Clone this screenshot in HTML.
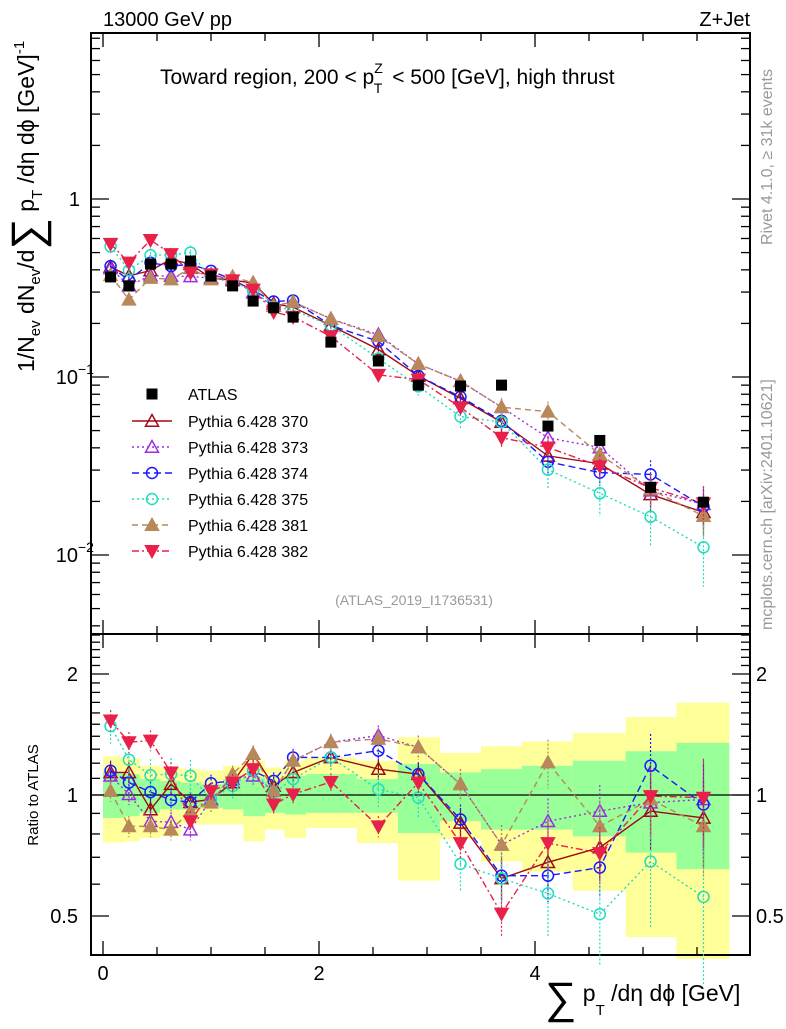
<!DOCTYPE html>
<html><head><meta charset="utf-8"><style>
body{margin:0;background:#fff;}
svg text{font-family:"Liberation Sans",sans-serif;}
</style></head><body>
<svg id="c" width="786" height="1024" xmlns="http://www.w3.org/2000/svg"></svg>
<script>
const xs=[0.07,0.24,0.44,0.63,0.81,1.0,1.2,1.39,1.58,1.76,2.11,2.55,2.92,3.31,3.69,4.12,4.6,5.07,5.56];
const binEdges=[0,0.21,0.34,0.53,0.72,0.91,1.11,1.30,1.50,1.68,1.88,2.35,2.73,3.12,3.5,3.88,4.35,4.84,5.31,5.8];
const atlas=[0.365,0.325,0.431,0.431,0.448,0.369,0.325,0.267,0.245,0.217,0.157,0.123,0.090,0.089,0.090,0.053,0.044,0.024,0.0198];
const yellowHi=[1.248,1.233,1.182,1.171,1.16,1.149,1.182,1.217,1.171,1.217,1.24,1.217,1.392,1.272,1.322,1.359,1.425,1.563,1.698];
const yellowLo=[0.762,0.767,0.782,0.789,0.844,0.844,0.844,0.767,0.82,0.782,0.828,0.759,0.612,0.777,0.683,0.645,0.578,0.443,0.391];
const greenHi=[1.138,1.127,1.095,1.084,1.074,1.064,1.095,1.105,1.084,1.116,1.127,1.095,1.194,1.138,1.16,1.182,1.217,1.285,1.348];
const greenLo=[0.877,0.886,0.903,0.921,0.921,0.929,0.921,0.886,0.903,0.894,0.903,0.903,0.804,0.861,0.82,0.82,0.789,0.719,0.654];
const r370=[1.138,1.138,0.920,1.064,0.960,0.975,1.074,1.265,1.053,1.138,1.24,1.16,1.127,0.852,0.62,0.68,0.74,0.912,0.877];
const r373=[1.116,1.004,0.86,0.856,0.82,0.975,1.095,1.116,1.023,1.217,1.353,1.406,1.314,1.064,0.752,0.86,0.912,0.957,0.975];
const r374=[1.149,1.074,1.017,0.972,0.960,1.07,1.084,1.149,1.084,1.24,1.24,1.289,1.127,0.869,0.63,0.63,0.66,1.182,0.947];
const r375=[1.484,1.224,1.12,1.127,1.116,0.975,1.053,1.149,1.013,1.095,1.24,1.033,0.985,0.674,0.62,0.569,0.505,0.683,0.558];
const r381=[1.023,0.836,0.836,0.82,0.912,0.957,1.127,1.265,1.023,1.217,1.353,1.379,1.314,1.064,0.752,1.205,0.836,0.975,0.836];
const r382=[1.533,1.353,1.366,1.138,0.86,1.023,1.074,1.16,0.947,1.004,1.078,0.836,1.074,0.759,0.507,0.759,0.717,0.994,0.985];
const mcErr=[0.06,0.06,0.06,0.06,0.06,0.05,0.05,0.05,0.05,0.05,0.05,0.06,0.07,0.09,0.12,0.14,0.16,0.2,0.25];

const svg=document.getElementById('c');const NS='http://www.w3.org/2000/svg';
function el(t,a,p){const e=document.createElementNS(NS,t);for(const k in a)e.setAttribute(k,a[k]);(p||svg).appendChild(e);return e;}
const X0=91,X1=750,T=33,M=634,B=955;
const xS=v=>103+v*108;
const yM=v=>199-Math.log10(v)*178;
const yR=v=>795-Math.log2(v)*121;

for(let i=0;i<xs.length;i++){
 let r=el('rect',{x:xS(binEdges[i]),width:xS(binEdges[i+1])-xS(binEdges[i]),y:yR(yellowHi[i]),height:yR(yellowLo[i])-yR(yellowHi[i]),fill:'#ffff99'});
 
 r=el('rect',{x:xS(binEdges[i]),width:xS(binEdges[i+1])-xS(binEdges[i]),y:yR(greenHi[i]),height:yR(greenLo[i])-yR(greenHi[i]),fill:'#99ff99'});
 
}
el('line',{x1:X0,x2:X1,y1:yR(1),y2:yR(1),stroke:'#000','stroke-width':1.3});

const fr=el('rect',{x:X0,y:T,width:X1-X0,height:M-T,fill:'none',stroke:'#000','stroke-width':2});

const fr2=el('rect',{x:X0,y:M,width:X1-X0,height:B-M,fill:'none',stroke:'#000','stroke-width':2});

for(let v=0;v<=6;v+=0.5){const x=xS(v);if(x>X1)break;const L=(v%2===0)?14:8;
 for(const [a,b] of [[T,T+L],[M,M-L],[M,M+L],[B,B-L]])el('line',{x1:x,x2:x,y1:a,y2:b,stroke:'#000','stroke-width':1.3});}
[0,2,4].forEach(v=>{const t=el('text',{x:xS(v),y:980,'font-size':20,'text-anchor':'middle'});t.textContent=v;});
for(let d=-3;d<=0;d++)for(let m=1;m<10;m++){const v=m*Math.pow(10,d);const y=yM(v);if(y<T||y>M)continue;const L=m===1?18:9;
 el('line',{x1:X0,x2:X0+L,y1:y,y2:y,stroke:'#000','stroke-width':1.3});el('line',{x1:X1,x2:X1-L,y1:y,y2:y,stroke:'#000','stroke-width':1.3});}
[[1,'1',''],[0.1,'10','−1'],[0.01,'10','−2']].forEach(([v,b,e])=>{const t=el('text',{x:e?78:80,y:yM(v)+7,'font-size':20,'text-anchor':'end'});t.textContent=b;
 if(e){const s=el('text',{x:78,y:yM(v)-3,'font-size':14});s.textContent=e;}});
for(let v=0.4;v<=2.6;v+=0.1){const y=yR(v);if(y<M||y>B)continue;const maj=Math.abs(v-0.5)<1e-6||Math.abs(v-1)<1e-6||Math.abs(v-2)<1e-6;const L=maj?18:9;
 el('line',{x1:X0,x2:X0+L,y1:y,y2:y,stroke:'#000','stroke-width':1.3});el('line',{x1:X1,x2:X1-L,y1:y,y2:y,stroke:'#000','stroke-width':1.3});}
[[2,'2'],[1,'1'],[0.5,'0.5']].forEach(([v,s])=>{let t=el('text',{x:78,y:yR(v)+7,'font-size':20,'text-anchor':'end'});t.textContent=s;
 t=el('text',{x:756,y:yR(v)+7,'font-size':20});t.textContent=s;});

function txt(x,y,s,sz,attrs,name){const t=el('text',Object.assign({x:x,y:y,'font-size':sz},attrs||{}));t.textContent=s;return t;}
txt(103,26,'13000 GeV pp',20,{},'title-left');
txt(750,26,'Z+Jet',20,{'text-anchor':'end'},'title-right');
const tt=el('text',{x:160,y:84,'font-size':21});
tt.innerHTML='Toward region, 200 &lt; p<tspan dy="-11" font-size="14">Z</tspan><tspan dx="-9" dy="20" font-size="14">T</tspan><tspan dx="4" dy="-9"> &lt; 500 [GeV], high thrust</tspan>';
txt(414,605,'(ATLAS_2019_I1736531)',14,{'text-anchor':'middle',fill:'#999'},'analysis-id');
txt(0,0,'Rivet 4.1.0, ≥ 31k events',16,{fill:'#999',transform:'translate(772,245) rotate(-90)'},'rivet-label');
txt(0,0,'mcplots.cern.ch [arXiv:2401.10621]',16,{fill:'#999',transform:'translate(772,630) rotate(-90)'},'mcplots-label');
txt(0,0,'Ratio to ATLAS',15,{'text-anchor':'middle',transform:'translate(38,795) rotate(-90)'},'ratio-y-title');
const yt=el('text',{'font-size':23,transform:'translate(34,372) rotate(-90)'});
yt.innerHTML='1/N<tspan font-size="15" dy="6">ev</tspan><tspan dy="-6"> dN</tspan><tspan font-size="15" dy="6">ev</tspan><tspan dy="-6">/d</tspan><tspan font-size="44" dy="8">∑</tspan><tspan dy="-8"> p</tspan><tspan font-size="15" dy="8">T</tspan><tspan dy="-8"> /dη dϕ  [GeV]</tspan><tspan font-size="15" dy="-10">-1</tspan>';
const xt=el('text',{x:545,y:1005,'font-size':23});
xt.innerHTML='<tspan font-size="44" dy="8">∑</tspan><tspan dy="-12"> p</tspan><tspan font-size="15" dy="14">T</tspan><tspan dy="-14"> /dη dϕ [GeV]</tspan>';

function marker(g,type,x,y,c){
 const s=6.5;
 if(type==='sq')return el('rect',{x:x-5.5,y:y-5.5,width:11,height:11,fill:'#000'},g);
 if(type==='tri'||type==='triF')return el('polygon',{points:`${x},${y-s} ${x-s},${y+s*0.8} ${x+s},${y+s*0.8}`,fill:type==='triF'?c:'none',stroke:c,'stroke-width':1.5},g);
 if(type==='triD')return el('polygon',{points:`${x},${y+s} ${x-s},${y-s*0.8} ${x+s},${y-s*0.8}`,fill:c,stroke:c,'stroke-width':1.5},g);
 if(type==='circ')return el('circle',{cx:x,cy:y,r:5.5,fill:'none',stroke:c,'stroke-width':1.5},g);
}
const series=[
 {n:'Pythia 6.428 370',r:r370,c:'#a00a14',m:'tri',d:'',id:'370'},
 {n:'Pythia 6.428 373',r:r373,c:'#9a2ee0',m:'tri',d:'2,3',id:'373'},
 {n:'Pythia 6.428 374',r:r374,c:'#1a1aff',m:'circ',d:'7,4',id:'374'},
 {n:'Pythia 6.428 375',r:r375,c:'#22dcc0',m:'circ',d:'2,3',id:'375'},
 {n:'Pythia 6.428 381',r:r381,c:'#b8875a',m:'triF',d:'6,4',id:'381'},
 {n:'Pythia 6.428 382',r:r382,c:'#e8204a',m:'triD',d:'7,3,2,3',id:'382'}];
const ga=el('g',{});
series.forEach((s,k)=>{
 const g=el('g',{});
 const pm=xs.map((x,i)=>xS(x)+','+yM(s.r[i]*atlas[i])).join(' ');
 const pr=xs.map((x,i)=>xS(x)+','+yR(s.r[i])).join(' ');
 el('polyline',{points:pm,fill:'none',stroke:s.c,'stroke-width':1.4,'stroke-dasharray':s.d},g);
 el('polyline',{points:pr,fill:'none',stroke:s.c,'stroke-width':1.4,'stroke-dasharray':s.d},g);
 xs.forEach((x,i)=>{const e=mcErr[i]*(k===3?1.6:1);
  const v=s.r[i]*atlas[i];
  el('line',{x1:xS(x),x2:xS(x),y1:yM(v*(1+e)),y2:yM(v*(1-e)),stroke:s.c,'stroke-width':1.2,'stroke-dasharray':s.d?'2,2':''},g);
  el('line',{x1:xS(x),x2:xS(x),y1:yR(s.r[i]*(1+e)),y2:yR(s.r[i]*(1-e)),stroke:s.c,'stroke-width':1.2,'stroke-dasharray':s.d?'2,2':''},g);
  marker(g,s.m,xS(x),yM(v),s.c);marker(g,s.m,xS(x),yR(s.r[i]),s.c);});
 const ly=421+k*26;
 const lg=el('g',{});
 el('line',{x1:132,x2:172,y1:ly,y2:ly,stroke:s.c,'stroke-width':1.4,'stroke-dasharray':s.d},lg);
 marker(lg,s.m,152,ly,s.c);
 const t=el('text',{x:188,y:ly+6,'font-size':16},lg);t.textContent=s.n;
});
xs.forEach((x,i)=>marker(ga,'sq',xS(x),yM(atlas[i]),'#000'));
svg.appendChild(ga);
const lga=el('g',{});
marker(lga,'sq',152,394,'#000');const ta=el('text',{x:188,y:400,'font-size':16},lga);ta.textContent='ATLAS';
</script>
</body></html>
